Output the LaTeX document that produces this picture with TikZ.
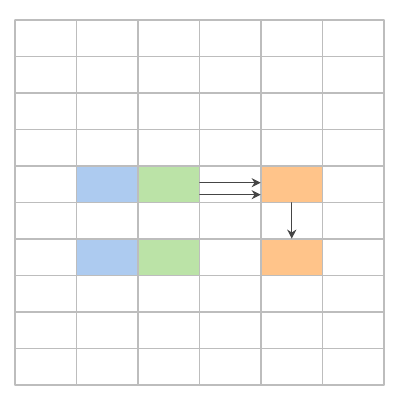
\documentclass[tikz,border=0pt]{standalone}
\usepackage{tikz}
\usetikzlibrary{arrows.meta}
\definecolor{gridgray}{rgb}{0.74, 0.74, 0.74}
\definecolor{cellblue}{HTML}{ADCBF0}
\definecolor{cellgreen}{HTML}{BBE3A7}
\definecolor{cellorange}{HTML}{FFC48A}
\definecolor{arrowgray}{rgb}{0.27, 0.27, 0.27}

\begin{document}
\begin{tikzpicture}[line cap=round,line join=round,x=1.5375cm,y=0.9125cm,
  cell/.style={rectangle,inner sep=0pt,minimum width=1.5375cm,minimum height=0.9125cm},
  link/.style={-{Stealth[length=6.5pt,width=6.5pt]},color=arrowgray,line width=0.8pt}]
\useasboundingbox (-0.244,-0.411) rectangle (6.260,10.548);
\node[cell,fill=cellblue] (b1) at (1.5,5.5) {};
\node[cell,fill=cellgreen] (g1) at (2.5,5.5) {};
\node[cell,fill=cellorange] (o1) at (4.5,5.5) {};
\node[cell,fill=cellblue] (b2) at (1.5,3.5) {};
\node[cell,fill=cellgreen] (g2) at (2.5,3.5) {};
\node[cell,fill=cellorange] (o2) at (4.5,3.5) {};
\draw [color=gridgray,line width=0.75pt,xstep=1.5375cm,ystep=0.9125cm] (0,0) grid (6,10);
\draw [link] ([yshift=0.04cm]g1.east) -- ([yshift=0.04cm]o1.west);
\draw [link] ([yshift=-0.26cm]g1.east) -- ([yshift=-0.26cm]o1.west);
\draw [link] (o1.south) -- (o2.north);
\end{tikzpicture}
\end{document}
